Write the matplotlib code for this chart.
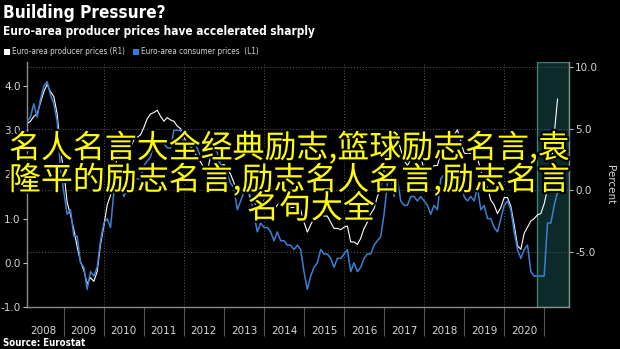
import numpy as np
import matplotlib
matplotlib.use("Agg")
import matplotlib.pyplot as plt
import matplotlib.patheffects as pe
from matplotlib.patches import Rectangle
from matplotlib.ticker import FixedLocator, FuncFormatter

# Euro-area consumer prices (HICP, % y/y), monthly Jan 2008 - Apr 2021, left axis
cpi = [
    3.2, 3.3, 3.6, 3.3, 3.7, 4.0, 4.1, 3.8, 3.6, 3.2, 2.1, 1.6,        # 2008
    1.1, 1.2, 0.6, 0.6, 0.0, -0.1, -0.6, -0.2, -0.3, -0.1, 0.5, 0.9,   # 2009
    1.0, 0.8, 1.6, 1.6, 1.7, 1.5, 1.7, 1.6, 1.9, 1.9, 1.9, 2.2,        # 2010
    2.3, 2.4, 2.7, 2.8, 2.7, 2.7, 2.6, 2.6, 3.0, 3.0, 3.0, 2.7,        # 2011
    2.7, 2.7, 2.7, 2.6, 2.4, 2.4, 2.4, 2.6, 2.6, 2.5, 2.2, 2.2,        # 2012
    2.0, 1.8, 1.7, 1.2, 1.4, 1.6, 1.6, 1.5, 1.1, 0.7, 0.9, 0.8,        # 2013
    0.8, 0.7, 0.5, 0.7, 0.5, 0.5, 0.4, 0.4, 0.3, 0.4, 0.3, -0.2,       # 2014
    -0.6, -0.3, -0.1, 0.0, 0.3, 0.2, 0.2, 0.1, -0.1, 0.1, 0.1, 0.2,    # 2015
    0.3, -0.2, 0.0, -0.2, -0.1, 0.1, 0.2, 0.2, 0.4, 0.5, 0.6, 1.1,     # 2016
    1.8, 2.0, 1.5, 1.9, 1.4, 1.3, 1.3, 1.5, 1.5, 1.4, 1.5, 1.4,        # 2017
    1.3, 1.1, 1.3, 1.2, 1.9, 2.0, 2.1, 2.0, 2.1, 2.2, 1.9, 1.5,        # 2018
    1.4, 1.5, 1.4, 1.7, 1.2, 1.3, 1.0, 1.0, 0.8, 0.7, 1.0, 1.3,        # 2019
    1.4, 1.2, 0.7, 0.3, 0.1, 0.3, 0.4, -0.2, -0.3, -0.3, -0.3, -0.3,   # 2020
    0.9, 0.9, 1.3, 1.6,                                                # 2021
]

# Euro-area producer prices (% y/y), same months, right axis
ppi = [
    5.4, 5.6, 6.0, 6.2, 7.1, 8.0, 8.6, 8.0, 7.6, 6.2, 3.3, 1.5,          # 2008
    -1.0, -2.0, -3.2, -4.6, -5.8, -6.5, -7.6, -7.1, -7.4, -6.6, -4.4, -2.9,  # 2009
    -1.2, -0.4, 0.9, 2.8, 3.1, 3.1, 3.9, 3.5, 4.1, 4.3, 4.5, 5.1,        # 2010
    5.8, 6.2, 6.3, 6.5, 6.0, 5.6, 5.9, 5.7, 5.6, 5.2, 5.0, 4.3,          # 2011
    3.8, 3.5, 3.3, 2.6, 2.3, 1.8, 1.6, 2.7, 2.6, 2.5, 2.0, 2.1,          # 2012
    1.7, 1.3, 0.6, -0.2, -0.2, 0.1, 0.2, -0.8, -0.9, -1.4, -1.2, -0.8,   # 2013
    -1.4, -1.7, -1.6, -1.2, -1.0, -0.8, -1.3, -1.4, -1.4, -1.3, -1.6, -2.6,  # 2014
    -3.4, -2.8, -2.3, -2.2, -2.0, -2.1, -2.1, -2.6, -3.1, -3.1, -3.2, -3.0,  # 2015
    -2.9, -4.2, -4.2, -4.4, -3.9, -3.1, -2.6, -1.9, -1.5, -0.5, 0.1, 1.6,    # 2016
    3.5, 4.5, 3.9, 4.3, 3.3, 2.4, 2.0, 2.5, 2.9, 2.5, 2.8, 1.6,          # 2017
    1.5, 1.7, 2.0, 2.0, 3.0, 3.6, 4.0, 4.2, 4.5, 4.9, 4.0, 3.0,          # 2018
    3.0, 3.0, 2.9, 2.6, 1.6, 0.7, 0.2, -0.8, -1.2, -1.9, -1.4, -0.6,     # 2019
    -0.6, -1.3, -2.8, -4.5, -4.8, -3.5, -3.0, -2.5, -2.3, -2.0, -1.9, -1.1,  # 2020
    0.1, 1.6, 4.5, 7.4,                                                  # 2021
]

years = list(range(2008, 2021))
left_ticks = [-1.0, 0.0, 1.0, 2.0, 3.0, 4.0]
right_ticks = [-5.0, 0.0, 5.0, 10.0]
shade_start = 2020.83

title = "Building Pressure?"
subtitle = "Euro-area producer prices have accelerated sharply"
legend_labels = ["Euro-area producer prices (R1)", "Euro-area consumer prices  (L1)"]
overlay_lines = [
    "名人名言大全经典励志,篮球励志名言,袁",
    "隆平的励志名言,励志名人名言,励志名言",
    "名句大全",
]

BLUE = "#3b80d4"
GREY = "#8a8a8a"
LABEL = "#d6d6d6"

# month-end positions in fractional years
t = 2008 + np.arange(1, len(cpi) + 1) / 12.0

W, H = 620, 349
fig = plt.figure(figsize=(W / 100, H / 100), dpi=100, facecolor="black")
ax = fig.add_axes([27 / W, (H - 307) / H, (569 - 27) / W, (307 - 62) / H])
ax.set_facecolor("black")
ax.set_xlim(2008.08, 2021.62)
ax.set_ylim(-9.48, 10.41)

# left scale: consumer prices (twin drawn above the main axes)
ax_l = ax.twinx()
ax_l.set_ylim(-1.0, 4.545)
ax_l.yaxis.tick_left()
ax_l.yaxis.set_major_locator(FixedLocator(left_ticks))
ax_l.yaxis.set_major_formatter(FuncFormatter(lambda v, p: f"{v:.1f}"))
ax_l.tick_params(axis="y", length=3, width=0.8, color="#bbbbbb",
                 labelsize=7.5, labelcolor=LABEL, pad=1.5)
for s in ax_l.spines.values():
    s.set_visible(False)
ax_l.plot(t, cpi, color=BLUE, linewidth=1.1, zorder=2)

# right scale: producer prices, grid, shading (twinx moved these ticks left, put them back)
ax.yaxis.tick_right()
ax.yaxis.set_major_locator(FixedLocator(right_ticks))
ax.yaxis.set_major_formatter(FuncFormatter(lambda v, p: f"{v:.1f}"))
ax.yaxis.set_label_position("right")
ax.set_ylabel("Percent", color=LABEL, fontsize=7.5, rotation=270, labelpad=12)
ax.grid(axis="y", color="#5a5a5a", linestyle=(0, (1, 2)), linewidth=0.7)
for yr in range(2010, 2021, 2):
    ax.axvline(yr, color="#5a5a5a", linestyle=(0, (1, 2)), linewidth=0.7, zorder=0.5)
ax.axvspan(shade_start, ax.get_xlim()[1], facecolor="#0b2a29",
           edgecolor="#3f7f7a", linewidth=1.0, zorder=0.8)
ax.plot(t, ppi, color="white", linewidth=0.8, zorder=2)
ax.tick_params(axis="y", which="major", length=3, width=0.8, color="#bbbbbb",
               labelsize=7.5, labelcolor=LABEL, pad=1.5)

# x axis: year labels centered, separators as long minor ticks
ax.xaxis.set_major_locator(FixedLocator([y + 0.5 for y in years]))
ax.set_xticklabels([str(y) for y in years])
ax.xaxis.set_minor_locator(FixedLocator(list(range(2009, 2022))))
ax.tick_params(axis="x", which="major", length=0, pad=14, labelsize=7.5, labelcolor=LABEL)
ax.tick_params(axis="x", which="minor", length=21, width=0.8, color="#555555", direction="out")

for side in ("left", "right", "bottom"):
    ax.spines[side].set_color(GREY)
    ax.spines[side].set_linewidth(1.0)
ax.spines["top"].set_visible(False)

# header
fig.text(3 / W, 1 - 13 / H, title, color="white", fontsize=12.3, fontweight="bold",
         fontstretch="condensed", va="center", ha="left")
fig.text(3 / W, 1 - 32 / H, subtitle, color="white", fontsize=8.5, fontweight="bold",
         fontstretch="condensed", va="center", ha="left")

# legend
fig.add_artist(Rectangle((4 / W, 1 - 55 / H), 6 / W, 6 / H, transform=fig.transFigure,
                         facecolor="white", edgecolor="none"))
fig.text(12 / W, 1 - 52 / H, legend_labels[0], color=LABEL,
         fontsize=5.9, fontstretch="condensed", va="center", ha="left")
fig.add_artist(Rectangle((133 / W, 1 - 55 / H), 6 / W, 6 / H, transform=fig.transFigure,
                         facecolor="#2f7fe0", edgecolor="none"))
fig.text(141 / W, 1 - 52 / H, legend_labels[1], color=LABEL,
         fontsize=5.9, fontstretch="condensed", va="center", ha="left")

fig.text(3 / W, 1 - 343 / H, "Source: Eurostat", color="white", fontsize=6.9,
         fontweight="bold", fontstretch="condensed", va="center", ha="left")

# yellow caption on top of the chart
outline = [pe.withStroke(linewidth=3, foreground="black")]
for line, cx, cy in zip(overlay_lines, [290, 290, 311], [148, 180, 209]):
    fig.text(cx / W, 1 - cy / H, line, color="#ffff00", fontsize=23.0,
             family=["Noto Sans CJK SC", "DejaVu Sans"], fontweight="medium",
             ha="center", va="center", path_effects=outline, zorder=10)

fig.savefig("out.png", dpi=100, facecolor="black")
